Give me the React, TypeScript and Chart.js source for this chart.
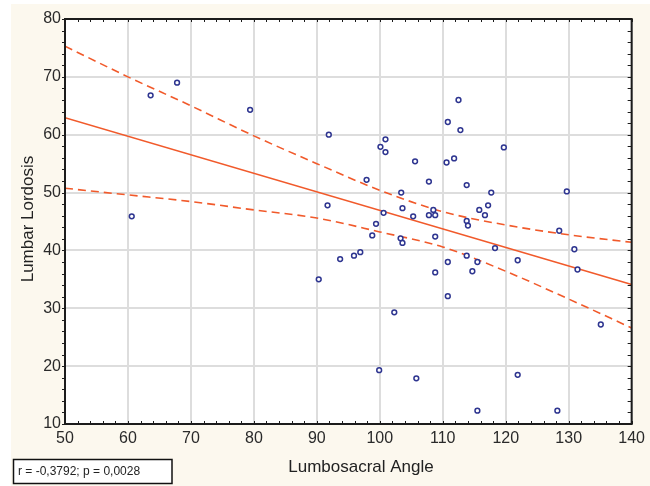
import React, { useEffect, useRef } from "react";
import { Chart, registerables } from "chart.js";

Chart.register(...registerables);

// Scatter data: Lumbosacral angle (x) vs Lumbar lordosis (y)
const angle = [
  60.6, 63.6, 67.8, 79.4, 91.9, 91.7, 90.3, 100.9, 100.1, 100.9,
  105.6, 97.9, 107.8, 103.4, 100.6, 103.6, 105.3, 107.8, 108.5, 108.8,
  112.5, 110.8, 112.8, 119.7, 110.6, 111.8, 113.8, 117.7, 115.8, 117.2,
  116.7, 99.4, 98.8, 103.3, 103.6, 108.8, 93.7, 95.9, 96.9, 108.8,
  102.3, 113.8, 114.0, 118.3, 128.5, 110.8, 113.8, 115.5, 114.7, 121.9,
  110.8, 99.9, 105.8, 115.5, 121.9, 128.2, 129.7, 130.9, 131.4, 135.1,
];
const lordosis = [
  45.9, 66.8, 69.0, 64.3, 60.0, 47.8, 35.0, 59.2, 57.9, 57.0,
  55.4, 52.2, 51.9, 50.0, 46.5, 47.3, 45.9, 46.1, 47.0, 46.1,
  66.0, 62.2, 60.8, 57.8, 55.2, 55.9, 51.3, 50.0, 47.0, 47.8,
  46.1, 44.6, 42.6, 42.1, 41.3, 42.4, 38.5, 39.1, 39.7, 36.2,
  29.3, 45.1, 44.3, 40.4, 43.4, 38.0, 39.1, 38.0, 36.4, 38.3,
  32.1, 19.3, 17.9, 12.3, 18.5, 12.3, 50.2, 40.2, 36.7, 27.2,
];

// Regression line end points
const fitX = [50, 140];
const fitY = [62.95, 34.1];

// 95% confidence band
const bandX = [50, 60, 70, 80, 90, 100, 110, 120, 130, 140];
const upperBand = [75.3, 70.0, 65.0, 59.8, 55.0, 50.4, 46.7, 44.4, 42.7, 41.4];
const lowerBand = [50.75, 49.6, 48.45, 47.0, 45.6, 43.2, 40.6, 36.4, 31.6, 26.6];

const X_MIN = 50;
const X_MAX = 140;
const Y_MIN = 10;
const Y_MAX = 80;
const MAJOR_STEP = 10;
const MINOR_STEP = 2;

const xTitle = "Lumbosacral Angle";
const yTitle = "Lumbar Lordosis";
const statsText = "r = -0,3792; p = 0,0028";

const FONT = "'Liberation Sans', Arial, Helvetica, sans-serif";
const CREAM = "#fcf8ee";
const LINE_COLOR = "#f15a2b";
const POINT_COLOR = "#2e3590";
const AXIS_COLOR = "#1c1c1c";

const framePlugin = {
  id: "framePlugin",
  beforeDraw(chart: any) {
    const ctx = chart.ctx;
    const { left, right, top, bottom } = chart.chartArea;
    ctx.save();
    ctx.fillStyle = "#ffffff";
    ctx.fillRect(0, 0, chart.width, chart.height);
    ctx.fillStyle = CREAM;
    ctx.fillRect(11, 4, chart.width - 11, chart.height - 4);
    ctx.fillStyle = "#ffffff";
    ctx.fillRect(left, top, right - left, bottom - top);
    ctx.restore();
  },
  afterDraw(chart: any) {
    const ctx = chart.ctx;
    const { left, right, top, bottom } = chart.chartArea;
    const xs = chart.scales.x;
    const ys = chart.scales.y;
    ctx.save();
    // frame
    ctx.strokeStyle = AXIS_COLOR;
    ctx.lineWidth = 2;
    ctx.strokeRect(left, top, right - left, bottom - top);
    // minor ticks
    ctx.lineWidth = 1;
    ctx.beginPath();
    for (let v = X_MIN; v <= X_MAX + 1e-9; v += MINOR_STEP) {
      const px = Math.round(xs.getPixelForValue(v)) + 0.5;
      ctx.moveTo(px, bottom);
      ctx.lineTo(px, bottom - 3);
      ctx.moveTo(px, top);
      ctx.lineTo(px, top + 3);
    }
    for (let v = Y_MIN; v <= Y_MAX + 1e-9; v += MINOR_STEP) {
      const py = Math.round(ys.getPixelForValue(v)) + 0.5;
      ctx.moveTo(left - 3, py);
      ctx.lineTo(left, py);
      ctx.moveTo(right, py);
      ctx.lineTo(right - 4, py);
    }
    ctx.stroke();

    // axis titles
    ctx.fillStyle = "#222222";
    ctx.font = `17px ${FONT}`;
    ctx.textAlign = "center";
    ctx.textBaseline = "alphabetic";
    ctx.fillText(xTitle, 361, 472);
    ctx.save();
    ctx.translate(33, 219);
    ctx.rotate(-Math.PI / 2);
    ctx.fillText(yTitle, 0, 0);
    ctx.restore();

    // stats box
    ctx.fillStyle = "#ffffff";
    ctx.fillRect(13, 459, 159, 24);
    ctx.strokeStyle = "#111111";
    ctx.lineWidth = 1.5;
    ctx.strokeRect(13.5, 459.5, 158.5, 24);
    ctx.fillStyle = "#222222";
    ctx.font = `12px ${FONT}`;
    ctx.textAlign = "left";
    ctx.fillText(statsText, 18, 475);
    ctx.restore();
  },
};

export default function App() {
  const canvasRef = useRef<HTMLCanvasElement | null>(null);

  useEffect(() => {
    if (!canvasRef.current) return;
    const points = angle.map((a, i) => ({ x: a, y: lordosis[i] }));
    const fit = fitX.map((x, i) => ({ x, y: fitY[i] }));
    const upper = bandX.map((x, i) => ({ x, y: upperBand[i] }));
    const lower = bandX.map((x, i) => ({ x, y: lowerBand[i] }));

    const chart = new Chart(canvasRef.current, {
      type: "scatter",
      data: {
        datasets: [
          {
            label: "Data",
            data: points,
            order: 0,
            pointStyle: "circle",
            pointRadius: 2.4,
            pointBorderWidth: 1.5,
            pointBorderColor: POINT_COLOR,
            pointBackgroundColor: "#ffffff",
            borderColor: POINT_COLOR,
            backgroundColor: "#ffffff",
            showLine: false,
          },
          {
            label: "Fit",
            data: fit,
            order: 1,
            showLine: true,
            borderColor: LINE_COLOR,
            borderWidth: 1.6,
            pointRadius: 0,
            fill: false,
          },
          {
            label: "Upper 95%",
            data: upper,
            order: 1,
            showLine: true,
            borderColor: LINE_COLOR,
            borderWidth: 1.6,
            borderDash: [8, 5],
            pointRadius: 0,
            cubicInterpolationMode: "monotone",
            fill: false,
          },
          {
            label: "Lower 95%",
            data: lower,
            order: 1,
            showLine: true,
            borderColor: LINE_COLOR,
            borderWidth: 1.6,
            borderDash: [8, 5],
            pointRadius: 0,
            cubicInterpolationMode: "monotone",
            fill: false,
          },
        ],
      },
      options: {
        responsive: false,
        animation: false,
        devicePixelRatio: 1,
        events: [],
        layout: { padding: { left: 0, top: 19, right: 17, bottom: 0 } },
        plugins: {
          legend: { display: false },
          tooltip: { enabled: false },
          title: { display: false },
        },
        scales: {
          x: {
            type: "linear",
            min: X_MIN,
            max: X_MAX,
            afterFit: (s: any) => {
              s.height = 62;
            },
            border: { display: false },
            grid: { color: "#dddddd", lineWidth: 2, drawTicks: false },
            ticks: {
              stepSize: MAJOR_STEP,
              padding: 5,
              color: "#2a2a2a",
              font: { family: FONT, size: 16 },
              maxRotation: 0,
            },
          },
          y: {
            type: "linear",
            min: Y_MIN,
            max: Y_MAX,
            afterFit: (s: any) => {
              s.width = 65;
            },
            border: { display: false },
            grid: { color: "#dddddd", lineWidth: 2, drawTicks: false },
            ticks: {
              stepSize: MAJOR_STEP,
              padding: 4,
              color: "#2a2a2a",
              font: { family: FONT, size: 16 },
            },
          },
        },
      },
      plugins: [framePlugin],
    });
    return () => chart.destroy();
  }, []);

  return (
    <div style={{ position: "absolute", left: 0, top: 0, width: 650, height: 486 }}>
      <canvas ref={canvasRef} width={650} height={486} style={{ display: "block" }} />
    </div>
  );
}
